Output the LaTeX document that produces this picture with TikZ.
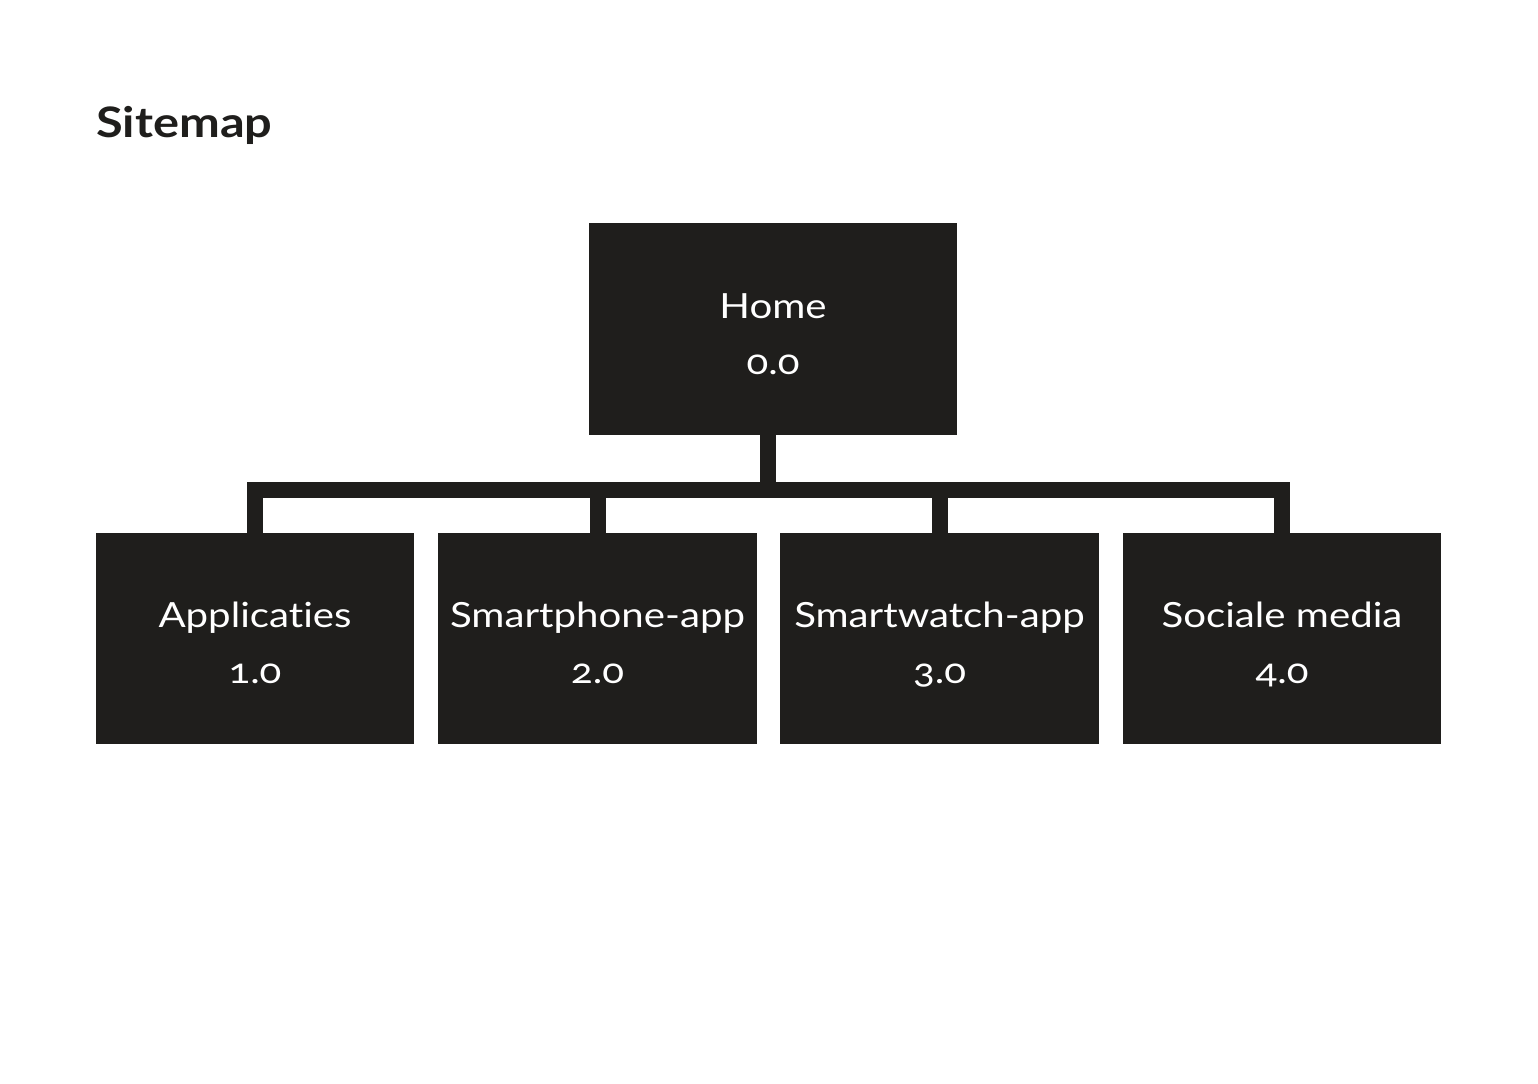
\documentclass[tikz,border=0pt]{standalone}
\usepackage{fontspec}
\setmainfont{Lato}[Numbers=OldStyle,Ligatures=NoCommon,FakeStretch=1.16]
\usetikzlibrary{calc}
\definecolor{ink}{HTML}{1F1E1C}
\begin{document}
\begin{tikzpicture}[x=0.75pt,y=-0.75pt,
  box/.style={fill=ink,draw=none,inner sep=0pt,minimum width=#1*0.75pt,minimum height=211*0.75pt},
  lbl/.style={anchor=base,text=white,inner sep=0pt,font=\fontsize{26}{30}\selectfont},
  conn/.style={draw=ink,line width=12pt,line join=miter}]
\useasboundingbox (0,0) rectangle (1538,1084);
\node[anchor=base west,inner sep=0pt,text=ink,font=\fontsize{31.5}{36}\selectfont\bfseries] (title) at (96,138) {Sitemap};
\node[box=368,minimum height=212*0.75pt] (home) at (773,329) {};
\node[box=318] (c1) at (255,638.5) {};
\node[box=319] (c2) at (597.5,638.5) {};
\node[box=319] (c3) at (939.5,638.5) {};
\node[box=318] (c4) at (1282,638.5) {};
\node[lbl] (homet) at ($(home.center)+(0,-11)$) {Home};
\node[lbl] (homen) at ($(home.center)+(0,45)$) {0.0};
\node[lbl] (c1t) at ($(c1.center)+(0,-11)$) {Applicaties};
\node[lbl] (c1n) at ($(c1.center)+(0,45)$) {1.0};
\node[lbl] (c2t) at ($(c2.center)+(0,-11)$) {Smartphone-app};
\node[lbl] (c2n) at ($(c2.center)+(0,45)$) {2.0};
\node[lbl] (c3t) at ($(c3.center)+(0,-11)$) {Smartwatch-app};
\node[lbl] (c3n) at ($(c3.center)+(0,45)$) {3.0};
\node[lbl] (c4t) at ($(c4.center)+(0,-11)$) {Sociale media};
\node[lbl] (c4n) at ($(c4.center)+(0,45)$) {4.0};
\coordinate (hub) at (768,489.5);
\draw[conn] (home.south -| hub) -- (hub);
\draw[conn] (c1.north) -- (c1.north |- hub) -- (c4.north |- hub) -- (c4.north);
\draw[conn] (c2.north) -- (c2.north |- hub);
\draw[conn] (c3.north) -- (c3.north |- hub);
\end{tikzpicture}
\end{document}
